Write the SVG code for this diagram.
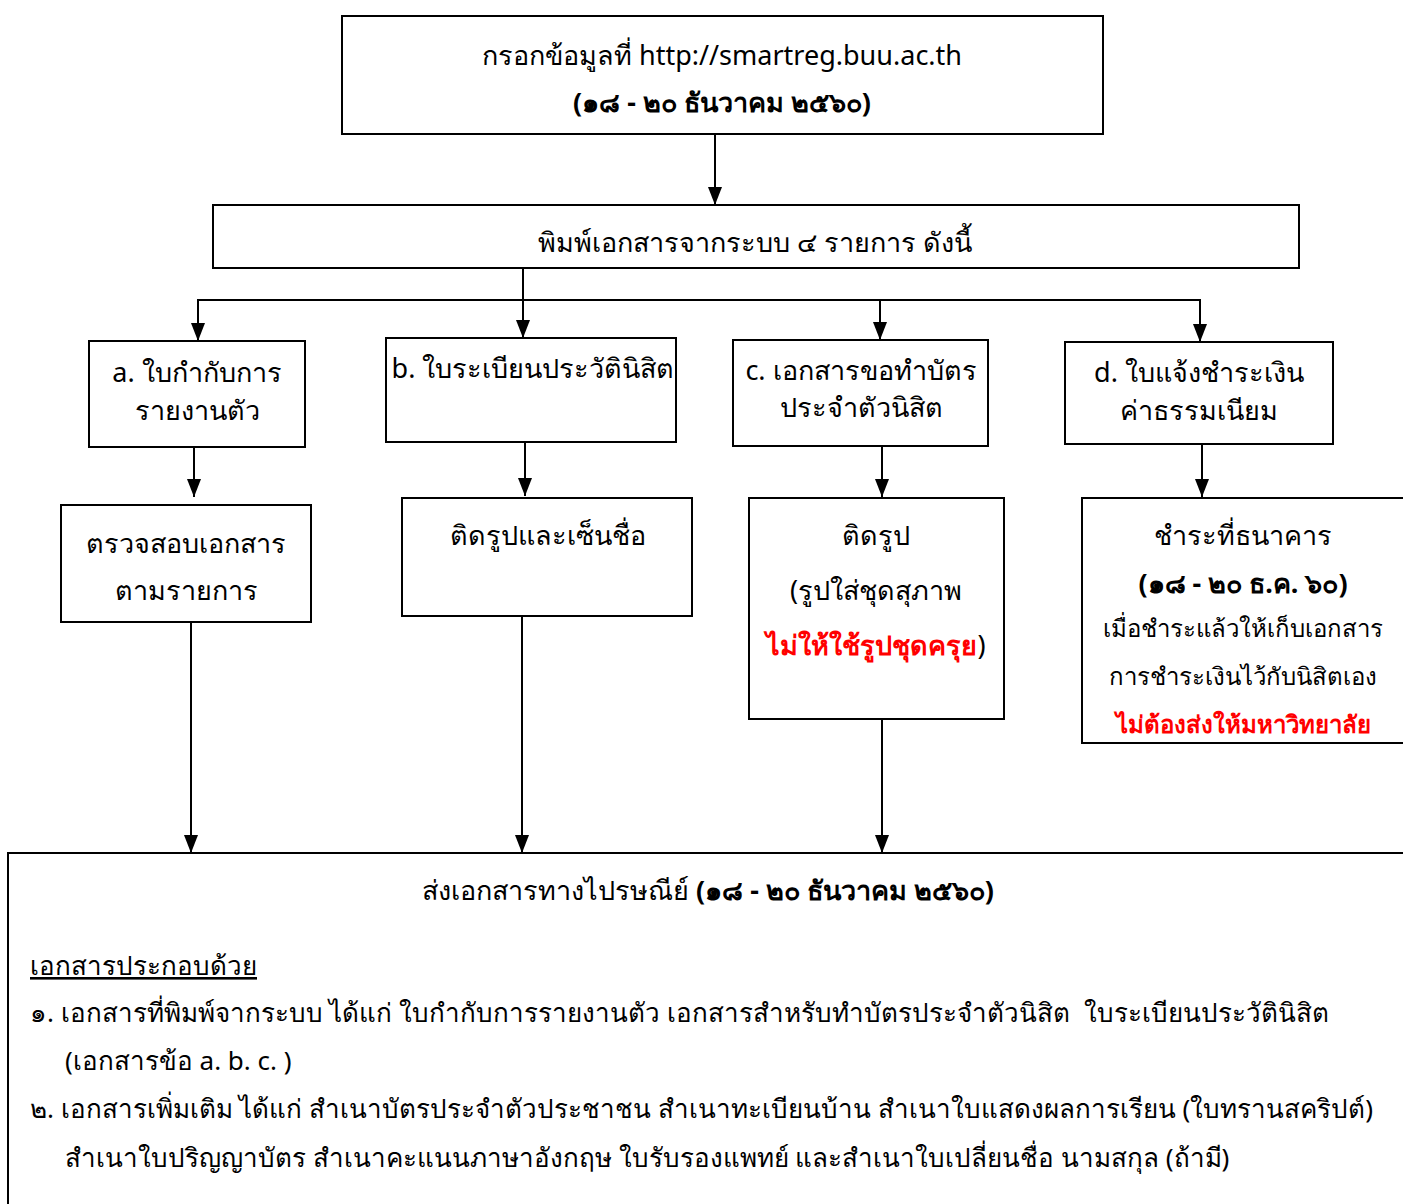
<svg xmlns="http://www.w3.org/2000/svg" width="1403" height="1204" viewBox="0 0 1403 1204">
<defs>
<marker id="ah" markerWidth="18" markerHeight="14" refX="18" refY="7" orient="auto" markerUnits="userSpaceOnUse" viewBox="0 0 18 14">
<path d="M0,0 L18,7 L0,14 Z" fill="#000"/>
</marker>
<style>
text{font-family:"Noto Sans","DejaVu Sans",sans-serif;font-size:27px;fill:#000}
.c{text-anchor:middle}
.b{font-weight:bold}
.r{fill:#ff0000;font-weight:bold}
.box{fill:#fff;stroke:#000;stroke-width:2}
.ln{fill:none;stroke:#000;stroke-width:2}
.sm{font-size:24px}
.t{font-size:26px}
</style>
</defs>
<rect width="1403" height="1204" fill="#fff"/>
<g id="connectors">
<path class="ln" d="M715,134 V205" marker-end="url(#ah)"/>
<path class="ln" d="M523,268 V338" marker-end="url(#ah)"/>
<path class="ln" d="M198,341 V300 H1200 V342" marker-end="url(#ah)"/>
<path class="ln" d="M198,300 V341" marker-end="url(#ah)"/>
<path class="ln" d="M880,300 V340" marker-end="url(#ah)"/>
<path class="ln" d="M194,447 V497" marker-end="url(#ah)"/>
<path class="ln" d="M525,442 V496" marker-end="url(#ah)"/>
<path class="ln" d="M882,446 V497" marker-end="url(#ah)"/>
<path class="ln" d="M1202,444 V497" marker-end="url(#ah)"/>
<path class="ln" d="M191,622 V853" marker-end="url(#ah)"/>
<path class="ln" d="M522,616 V853" marker-end="url(#ah)"/>
<path class="ln" d="M882,719 V853" marker-end="url(#ah)"/>
</g>
<g id="n-top"><rect class="box" x="342" y="16" width="761" height="118"/>
<text class="c" x="722" y="65">กรอกข้อมูลที่ http://smartreg.buu.ac.th</text>
<text class="c b" x="722" y="112">(๑๘ - ๒๐ ธันวาคม ๒๕๖๐)</text></g>
<g id="n-print"><rect class="box" x="213" y="205" width="1086" height="63"/>
<text class="c" x="755" y="252">พิมพ์เอกสารจากระบบ ๔ รายการ ดังนี้</text></g>
<g id="n-a"><rect class="box" x="89" y="341" width="216" height="106"/>
<text class="c" x="197" y="382">a. ใบกำกับการ</text>
<text class="c" x="197" y="420">รายงานตัว</text></g>
<g id="n-b"><rect class="box" x="386" y="338" width="290" height="104"/>
<text class="c" x="533" y="378">b. ใบระเบียนประวัตินิสิต</text></g>
<g id="n-c"><rect class="box" x="733" y="340" width="255" height="106"/>
<text class="c" x="861" y="380">c. เอกสารขอทำบัตร</text>
<text class="c" x="861" y="417">ประจำตัวนิสิต</text></g>
<g id="n-d"><rect class="box" x="1065" y="342" width="268" height="102"/>
<text class="c" x="1199" y="382">d. ใบแจ้งชำระเงิน</text>
<text class="c" x="1199" y="420">ค่าธรรมเนียม</text></g>
<g id="n-a2"><rect class="box" x="61" y="505" width="250" height="117"/>
<text class="c" x="186" y="553">ตรวจสอบเอกสาร</text>
<text class="c" x="186" y="600">ตามรายการ</text></g>
<g id="n-b2"><rect class="box" x="402" y="498" width="290" height="118"/>
<text class="c" x="548" y="545">ติดรูปและเซ็นชื่อ</text></g>
<g id="n-c2"><rect class="box" x="749" y="498" width="255" height="221"/>
<text class="c" x="876" y="545">ติดรูป</text>
<text class="c" x="876" y="600">(รูปใส่ชุดสุภาพ</text>
<text class="c" x="876" y="655"><tspan class="r">ไม่ให้ใช้รูปชุดครุย</tspan>)</text></g>
<g id="n-d2"><rect class="box" x="1082" y="498" width="340" height="245"/>
<text class="c" x="1243" y="545">ชำระที่ธนาคาร</text>
<text class="c b" x="1243" y="593">(๑๘ - ๒๐ ธ.ค. ๖๐)</text>
<text class="c sm" x="1243" y="637">เมื่อชำระแล้วให้เก็บเอกสาร</text>
<text class="c sm" x="1243" y="685">การชำระเงินไว้กับนิสิตเอง</text>
<text class="c sm r" x="1243" y="733">ไม่ต้องส่งให้มหาวิทยาลัย</text></g>
<g id="n-post"><rect class="box" x="8" y="853" width="1420" height="380"/>
<text class="c" x="708" y="900">ส่งเอกสารทางไปรษณีย์ <tspan class="b">(๑๘ - ๒๐ ธันวาคม ๒๕๖๐)</tspan></text>
<text class="t" x="30" y="975" text-decoration="underline">เอกสารประกอบด้วย</text>
<text class="t" x="30" y="1022">๑. เอกสารที่พิมพ์จากระบบ ได้แก่ ใบกำกับการรายงานตัว เอกสารสำหรับทำบัตรประจำตัวนิสิต&#160; ใบระเบียนประวัตินิสิต</text>
<text class="t" x="65" y="1070">(เอกสารข้อ a. b. c. )</text>
<text class="t" x="30" y="1118">๒. เอกสารเพิ่มเติม ได้แก่ สำเนาบัตรประจำตัวประชาชน สำเนาทะเบียนบ้าน สำเนาใบแสดงผลการเรียน (ใบทรานสคริปต์)</text>
<text class="t" x="65" y="1167">สำเนาใบปริญญาบัตร สำเนาคะแนนภาษาอังกฤษ ใบรับรองแพทย์ และสำเนาใบเปลี่ยนชื่อ นามสกุล (ถ้ามี)</text></g>
</svg>
